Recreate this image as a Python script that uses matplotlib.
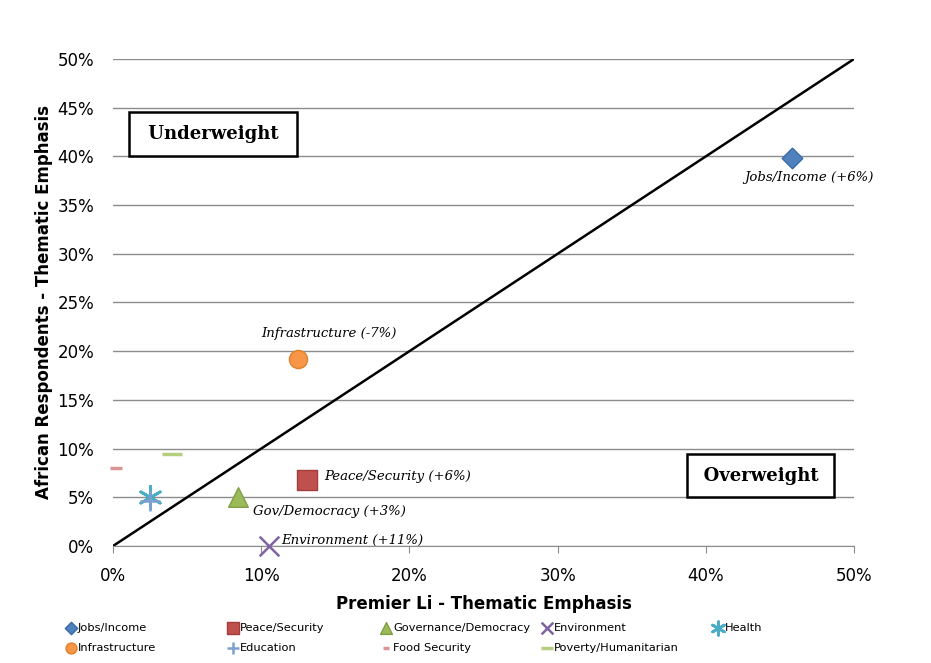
import matplotlib
matplotlib.use("Agg")
import matplotlib.pyplot as plt
from matplotlib.ticker import FuncFormatter, MultipleLocator

categories = ["Jobs/Income", "Peace/Security", "Governance/Democracy", "Environment", "Health",
              "Infrastructure", "Education", "Food Security", "Poverty/Humanitarian"]
premier_li = [45.8, 13.1, 8.4, 10.5, 2.5, 12.5, 2.5, 0.2, 4.0]
african = [39.8, 6.8, 5.0, 0.0, 5.0, 19.2, 4.6, 8.0, 9.4]
markers = ["D", "s", "^", "x", (6, 2, 0), "o", "+", "_", "_"]
colors = ["#4f81bd", "#c0504d", "#9bbb59", "#8064a2", "#4bacc6", "#f79646", "#7f9fcf", "#d99694", "#b3cf7f"]
edges = ["#3a6aa8", "#a33d3a", "#7f9f45", "#8064a2", "#4bacc6", "#e0802a", "#7f9fcf", "#d99694", "#b3cf7f"]
sizes = [110, 190, 200, 200, 260, 170, 200, 70, 220]
annotations = [("Jobs/Income (+6%)", 0), ("Peace/Security (+6%)", 1), ("Gov/Democracy (+3%)", 2),
               ("Environment (+11%)", 3), ("Infrastructure (-7%)", 5)]

fig = plt.figure(figsize=(9.31, 6.63), dpi=100)
ax = fig.add_axes([0.1214, 0.1765, 0.7959, 0.7345])

ax.set_xlim(0, 50)
ax.set_ylim(0, 50)
ax.yaxis.set_major_locator(MultipleLocator(5))
ax.xaxis.set_major_locator(MultipleLocator(10))
pct = FuncFormatter(lambda v, p: f"{v:.0f}%")
ax.xaxis.set_major_formatter(pct)
ax.yaxis.set_major_formatter(pct)
ax.grid(axis="y", color="#8c8c8c", linewidth=1.0)
ax.set_axisbelow(True)
for s in ["top", "right", "left"]:
    ax.spines[s].set_visible(False)
ax.spines["bottom"].set_color("#8c8c8c")
ax.tick_params(axis="y", length=0, labelsize=12, pad=13.5)
ax.tick_params(axis="x", length=5, color="#8c8c8c", labelsize=12, direction="out", pad=10)

ax.plot([0, 50], [0, 50], color="black", linewidth=1.8, zorder=2)

handles = []
for i, c in enumerate(categories):
    m = markers[i]
    if m in ("x", "+", "_"):
        h = ax.scatter(premier_li[i], african[i], marker=m, s=sizes[i], color=colors[i],
                       linewidths=2.5 if m == "_" else 1.8, label=c, zorder=3, clip_on=False)
    elif isinstance(m, tuple):
        h = ax.scatter(premier_li[i], african[i], marker=m, s=sizes[i], color=colors[i],
                       linewidths=2.0, label=c, zorder=3)
    else:
        h = ax.scatter(premier_li[i], african[i], marker=m, s=sizes[i], color=colors[i],
                       edgecolors=edges[i], linewidths=1.0, label=c, zorder=3)
    handles.append(h)

serif = ["DejaVu Serif"]
offsets = {0: (12, -14, "center"), 1: (12, 2, "left"), 2: (11.5, -10, "left"),
           3: (9.4, 4.3, "left"), 5: (22, 18, "center")}
for text, idx in annotations:
    dx, dy, ha = offsets[idx]
    ax.annotate(text, (premier_li[idx], african[idx]), xytext=(dx, dy), textcoords="offset points",
                ha=ha, va="center", fontsize=9.5, style="italic", family=serif, zorder=4)

bbox = dict(boxstyle="square,pad=0.7", facecolor="white", edgecolor="black", linewidth=1.8)
ax.text(6.75, 42.3, " Underweight ", fontsize=13, fontweight="bold", family=serif,
        ha="center", va="center", bbox=bbox)
ax.text(43.7, 7.2, "\u2009Overweight\u2009", fontsize=13, fontweight="bold", family=serif,
        ha="center", va="center", bbox=bbox)

ax.set_xlabel("Premier Li - Thematic Emphasis", fontsize=12, fontweight="bold", labelpad=7.5)
ax.set_ylabel("African Respondents - Thematic Emphasis", fontsize=12, fontweight="bold", labelpad=3)

col_x = [0.0705, 0.2445, 0.4095, 0.5825, 0.7655]
columns = [[0, 5], [1, 6], [2, 7], [3, 8], [4]]
for cx, idxs in zip(col_x, columns):
    fig.legend([handles[k] for k in idxs], [categories[k] for k in idxs],
               loc="upper left", bbox_to_anchor=(cx, 0.061), frameon=False, fontsize=8.2,
               markerscale=0.6, handletextpad=0.15, labelspacing=0.9, handlelength=0.9,
               borderpad=0.0, borderaxespad=0.0)

fig.savefig("out.png", dpi=100)
